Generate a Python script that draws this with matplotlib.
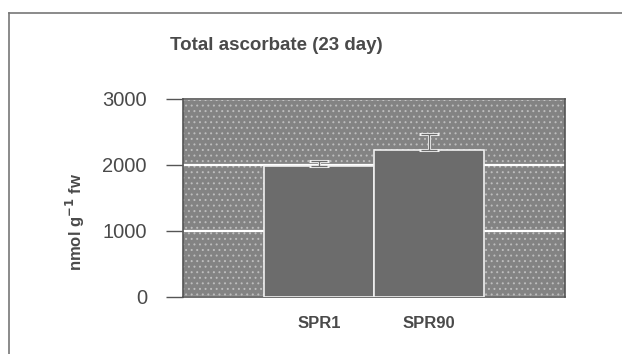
import matplotlib.pyplot as plt
import numpy as np
from matplotlib.patches import Rectangle
from matplotlib.lines import Line2D

plt.rcParams['font.family'] = ['Liberation Sans', 'DejaVu Sans']

categories = ['SPR1', 'SPR90']
values = [1990, 2225]
errors = [75, 245]
yticks = [0, 1000, 2000, 3000]

fig = plt.figure(figsize=(6.22, 3.54), dpi=100)
ax = fig.add_axes([183 / 622, 1 - 297 / 354, (565 - 183) / 622, (297 - 99) / 354])

# speckled grey plot area, imitated with a dot hatch
ax.set_facecolor('#838383')
plt.rcParams['hatch.color'] = '#bdbdbd'
plt.rcParams['hatch.linewidth'] = 0.7
ax.add_patch(Rectangle((0, 0), 1, 1, transform=ax.transAxes, facecolor='none',
                       edgecolor='#bdbdbd', hatch='...', linewidth=0, zorder=0))

x = np.arange(len(categories))
ax.bar(x, values, width=1.0, color='#6c6c6c', edgecolor='#f0f0f0', linewidth=1.2,
       zorder=3)
ax.errorbar(x, values, yerr=[np.zeros(len(errors)), errors], fmt='none',
            ecolor='#f0f0f0', elinewidth=2.2, capsize=7, capthick=2.2, zorder=4)
ax.errorbar(x, values, yerr=[np.zeros(len(errors)), errors], fmt='none',
            ecolor='#6c6c6c', elinewidth=0.9, capsize=6, capthick=0.9, zorder=5)

ax.set_ylim(0, 3000)
ax.set_xlim(-1.23, 2.23)
ax.set_yticks(yticks)
ax.set_xticks(x)
ax.set_xticklabels(categories, fontsize=12, fontweight='bold', color='#4a4a4a')
ax.tick_params(axis='x', length=0, pad=14)
ax.tick_params(axis='y', length=12, width=1, color='#555555', labelsize=14.5,
               labelcolor='#4a4a4a', pad=14)
ax.yaxis.grid(True, color='white', linewidth=1.6, zorder=2)
ax.set_axisbelow(True)
for s in ax.spines.values():
    s.set_color('#555555')
    s.set_linewidth(1.2)

fig.text(276 / 622, 1 - 45 / 354, 'Total ascorbate (23 day)', ha='center', va='center',
         fontsize=13.5, fontweight='bold', color='#4a4a4a')
fig.text(75 / 622, 1 - 222 / 354, 'nmol g$^{\\mathbf{-1}}$ fw', ha='center', va='center',
         rotation=90, fontsize=12, fontweight='bold', color='#4a4a4a')

# outer frame of the scanned figure
fig.add_artist(Line2D([9 / 622, 1], [1 - 13 / 354] * 2, color='#777777', lw=1.2))
fig.add_artist(Line2D([9 / 622] * 2, [0, 1 - 13 / 354], color='#777777', lw=1.2))

fig.savefig('out.png', dpi=100)
